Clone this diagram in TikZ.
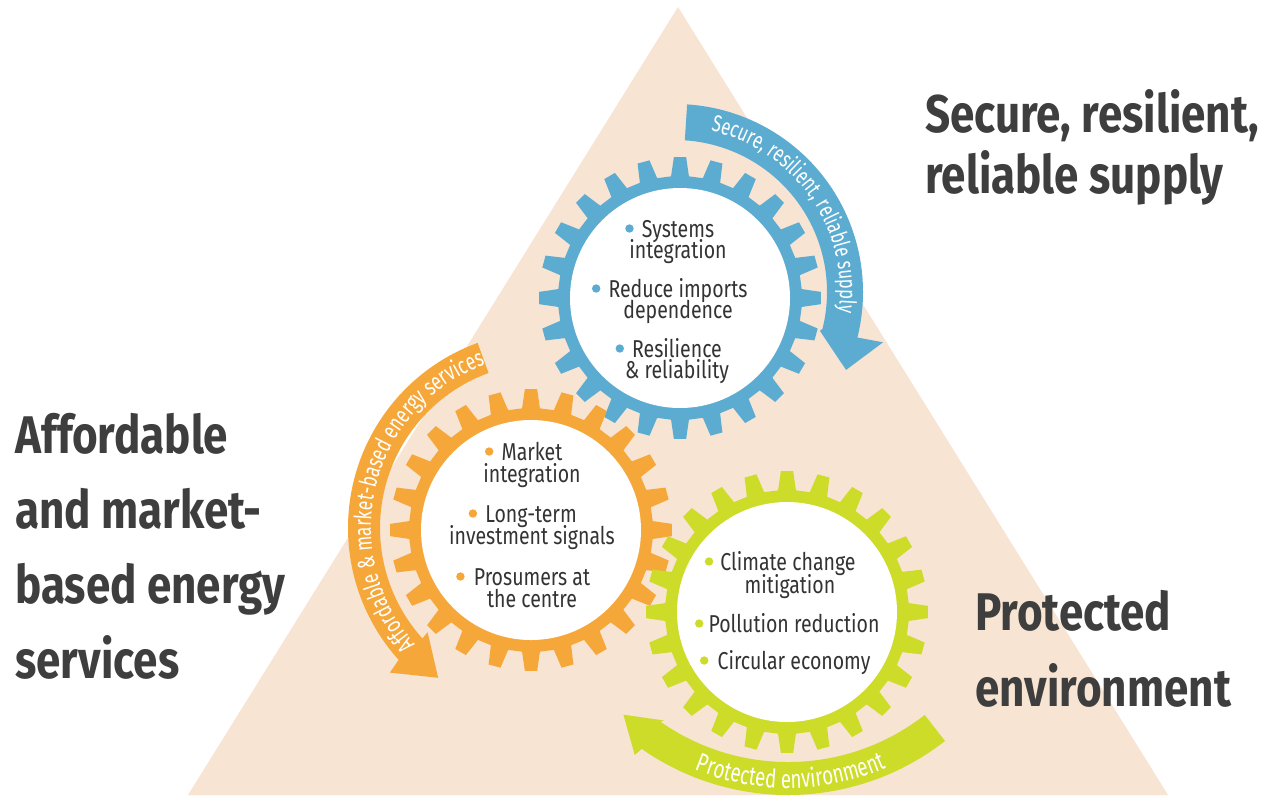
\documentclass[tikz,border=0pt]{standalone}
\usepackage{fontspec}
\setmainfont{Fira Sans}[FakeStretch=0.8]
\newfontfamily\titlefont{Fira Sans}[FakeStretch=0.83]
\newfontfamily\bandfont{Fira Sans}[FakeStretch=0.72]
\usetikzlibrary{decorations.text}
\definecolor{cblue}{RGB}{92,172,210}
\definecolor{corange}{RGB}{246,167,58}
\definecolor{cgreen}{RGB}{205,220,40}
\definecolor{cbeige}{RGB}{247,228,211}
\definecolor{ctext}{RGB}{51,51,51}
\definecolor{ctitle}{RGB}{62,62,62}
\newcommand\bandblue{\color{white}\bandfont\fontsize{11.6}{13}\selectfont}
\newcommand\bandorange{\color{white}\bandfont\fontsize{12}{14}\selectfont}
\newcommand\bandgreen{\color{white}\bandfont\fontsize{13}{15}\selectfont}
\begin{document}
\begin{tikzpicture}[x=0.5pt,y=0.5pt,
  gtxt/.style={font=\fontsize{12.2}{14}\selectfont, text=ctext, inner sep=0pt, anchor=base},
  ttl/.style={font=\titlefont\bfseries\fontsize{26.5}{30}\selectfont, text=ctitle, inner sep=0pt, anchor=base west},
  pics/gear/.style={code={
    \fill[#1] (-4.2:122) \foreach \k in {0,...,23}{ -- ({\k*15-4.2}:122) -- ({\k*15-2.5}:141) -- ({\k*15+2.5}:141) -- ({\k*15+4.2}:122)} -- cycle;
    \fill[white] (0,0) circle[radius=110];
  }}
]
\useasboundingbox (0,0) rectangle (1272,-805);
\fill[white] (0,0) rectangle (1272,-805);
% triangle
\fill[cbeige] (678,-7) -- (1168,-795) -- (188,-795) -- cycle;
% arrow bands
\fill[cblue, shift={(675,-292)}] (86.3:188) arc[start angle=86.3, end angle=-14, radius=188] -- (-13.6:214) -- (-24.5:188) -- (-15:150) -- (-14:152) arc[start angle=-14, end angle=86.3, radius=152] -- cycle;
\fill[corange, shift={(545,-528)}] (110:197) arc[start angle=110, end angle=222, radius=197] -- (223:212) -- (234.5:184) -- (221.6:157) -- (222:165) arc[start angle=222, end angle=110, radius=165] -- cycle;
\fill[cgreen, shift={(788,-540)}] (-52:255) arc[start angle=-52, end angle=-125, radius=255] -- (-125.5:264) -- (-133.3:240) -- (-124.5:219) -- (-125:222) arc[start angle=-125, end angle=-52, radius=222] -- cycle;
% band texts
\path[shift={(675,-292)}, decorate, decoration={text along path, text align=center, text={|\bandblue|Secure, resilient, reliable supply}}] (105.1:165) arc[start angle=105.1, end angle=-34.9, radius=165];
\path[shift={(545,-528)}, decorate, decoration={text along path, text align=center, text={|\bandorange|Affordable {\&} market-based energy services}}] (236:174) arc[start angle=236, end angle=96, radius=174];
\path[shift={(788,-540)}, decorate, decoration={text along path, text align=center, text={|\bandgreen|Protected environment}}] (200.7:248) arc[start angle=200.7, end angle=340.7, radius=248];
% gears
\coordinate (gb) at (680,-298);
\coordinate (go) at (531,-530);
\coordinate (gg) at (787,-612);
\pic at (gb) {gear=cblue};
\pic at (go) {gear=corange};
\pic at (gg) {gear=cgreen};
% blue gear text
\node[gtxt] (b1) at (678,-237) {Systems};
\node[gtxt] (b2) at (678,-258) {integration};
\node[gtxt] (b3) at (678,-297) {Reduce imports};
\node[gtxt] (b4) at (678,-318) {dependence};
\node[gtxt] (b5) at (677,-357) {Resilience};
\node[gtxt] (b6) at (677,-378) {\& reliability};
\fill[cblue] ([shift={(-12,8.5)}]b1.base west) circle[radius=4.2];
\fill[cblue] ([shift={(-12,8.5)}]b3.base west) circle[radius=4.2];
\fill[cblue] ([shift={(-12,8.5)}]b5.base west) circle[radius=4.2];
% orange gear text
\node[gtxt] (o1) at (532,-460) {Market};
\node[gtxt] (o2) at (532,-482) {integration};
\node[gtxt] (o3) at (531,-522) {Long-term};
\node[gtxt] (o4) at (532,-544) {investment signals};
\node[gtxt] (o5) at (532,-585) {Prosumers at};
\node[gtxt] (o6) at (532,-607) {the centre};
\fill[corange] ([shift={(-12,8.5)}]o1.base west) circle[radius=4.2];
\fill[corange] ([shift={(-12,8.5)}]o3.base west) circle[radius=4.2];
\fill[corange] ([shift={(-13,8.5)}]o5.base west) circle[radius=4.2];
% green gear text
\node[gtxt] (g1) at (788,-570) {Climate change};
\node[gtxt] (g2) at (790,-593) {mitigation};
\node[gtxt] (g3) at (794,-632) {Pollution reduction};
\node[gtxt] (g4) at (794,-669) {Circular economy};
\fill[cgreen] ([shift={(-11,8.5)}]g1.base west) circle[radius=4.2];
\fill[cgreen] ([shift={(-9,8.5)}]g3.base west) circle[radius=4.2];
\fill[cgreen] ([shift={(-13,8.5)}]g4.base west) circle[radius=4.2];
% titles
\node[ttl] (t1) at (925,-132) {Secure, resilient,};
\node[ttl] (t2) at (925,-193) {reliable supply};
\node[ttl] (l1) at (15,-453) {Affordable};
\node[ttl] (l2) at (15,-528) {and market-};
\node[ttl] (l3) at (15,-603) {based energy};
\node[ttl] (l4) at (15,-678) {services};
\node[ttl] (p1) at (975,-630) {Protected};
\node[ttl] (p2) at (975,-706) {environment};
\end{tikzpicture}
\end{document}
